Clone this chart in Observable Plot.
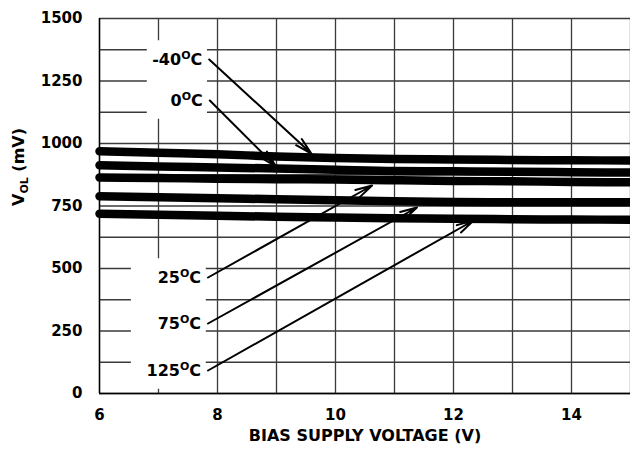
<!DOCTYPE html>
<html><head><meta charset="utf-8">
<script src="https://cdn.jsdelivr.net/npm/d3@7"></script>
<script src="https://cdn.jsdelivr.net/npm/@observablehq/plot@0.6"></script>
<style>body{margin:0;background:#fff}</style>
</head><body><div id="chart"></div>
<script>
// Data
const voltage = [6, 7, 8, 9, 10, 11, 12, 13, 14, 15];
const vol_m40 = [969, 963, 957, 948, 942, 938, 936, 934, 933, 932];
const vol_0   = [913, 908, 904, 900, 895, 890, 889, 887, 885, 884];
const vol_25  = [864, 862, 859, 857, 856, 853, 850, 849, 846, 845];
const vol_75  = [789, 785, 781, 777, 773, 769, 766, 765, 765, 765];
const vol_125 = [719, 715, 711, 707, 704, 701, 699, 697, 696, 695];
const temps = ["-40°C", "0°C", "25°C", "75°C", "125°C"];
const seriesValues = [vol_m40, vol_0, vol_25, vol_75, vol_125];

const xTicks = [6, 8, 10, 12, 14];
const yTicks = [0, 250, 500, 750, 1000, 1250, 1500];
const xGrid = d3.range(6, 16, 1);
const yGrid = d3.range(0, 1501, 125);
const xLabel = "BIAS SUPPLY VOLTAGE (V)";
const yLabel = "VOL (mV)";

// Annotation arrows: label/arrow start (x1,y1) -> tip (x2,y2), group for background box
const annLabels = ["-40°C", "0°C", "25°C", "75°C", "125°C"];
const annX1 = [7.86, 7.87, 7.84, 7.84, 7.84];
const annY1 = [1336, 1172, 464, 280, 92];
const annX2 = [9.59, 8.99, 10.62, 11.38, 12.34];
const annY2 = [960, 908, 832, 744, 692];
const annGroup = ["top", "top", "bottom", "bottom", "bottom"];

const rows = [];
temps.forEach((t, i) => voltage.forEach((v, j) => rows.push({temp: t, v, mv: seriesValues[i][j]})));
const ann = annLabels.map((l, i) => ({label: l, x1: annX1[i], y1: annY1[i], x2: annX2[i], y2: annY2[i], g: annGroup[i]}));
const boxes = d3.groups(ann, d => d.g).map(([g, a]) => {
  const xs = a.map(d => d.x1), ys = a.map(d => d.y1);
  const wide = g === "bottom" ? 1.3 : 1.05;
  return {x1: d3.min(xs) - wide, x2: d3.min(xs) - 0.03, y1: d3.min(ys) - 75, y2: d3.max(ys) + 75};
});

const chart = Plot.plot({
  width: 630, height: 452,
  marginLeft: 99, marginRight: 0, marginTop: 18, marginBottom: 59,
  style: {fontFamily: "'DejaVu Sans', sans-serif", fontWeight: "bold", fontSize: "15px", color: "#000", background: "#fff"},
  x: {domain: [6, 15], label: null},
  y: {domain: [0, 1500], label: null},
  marks: [
    Plot.gridX(xGrid, {stroke: "#3a3a3a", strokeOpacity: 1, strokeWidth: 1.3}),
    Plot.gridY(yGrid, {stroke: "#3a3a3a", strokeOpacity: 1, strokeWidth: 1.3}),
    Plot.rect(boxes, {x1: "x1", x2: "x2", y1: "y1", y2: "y2", fill: "#fff"}),
    Plot.ruleY([0], {stroke: "#000", strokeWidth: 1.6}),
    Plot.ruleX([6], {stroke: "#000", strokeWidth: 1.4}),
    Plot.line(rows, {x: "v", y: "mv", z: "temp", stroke: "#000", strokeWidth: 8.5, curve: "monotone-x"}),
    Plot.arrow(ann, {x1: "x1", y1: "y1", x2: "x2", y2: "y2", stroke: "#000", strokeWidth: 2, headLength: 13, headAngle: 28}),
    Plot.text(ann, {x: "x1", y: "y1", text: "label", textAnchor: "end", dx: -7, fontSize: 16, fontWeight: "bold", fill: "#000"}),
    Plot.axisX({ticks: xTicks, tickSize: 0, tickPadding: 16, fontSize: 15, label: null, tickFormat: d => String(d)}),
    Plot.axisY({ticks: yTicks, tickSize: 0, tickPadding: 17, fontSize: 15, label: null, tickFormat: d => String(d)}),
    Plot.text([xLabel], {frameAnchor: "bottom", dy: 47, fontSize: 16, fontWeight: "bold", fill: "#000"}),
    Plot.text([yLabel], {frameAnchor: "left", rotate: -90, dx: -81, fontSize: 16, fontWeight: "bold", fill: "#000"})
  ]
});

// superscript "O" for degrees and subscript "OL"
const NS = "http://www.w3.org/2000/svg";
chart.querySelectorAll("text").forEach(t => {
  const s = t.textContent;
  if (s.includes("°")) {
    const [a, b] = s.split("°");
    t.textContent = "";
    const t1 = document.createElementNS(NS, "tspan"); t1.textContent = a;
    const t2 = document.createElementNS(NS, "tspan"); t2.textContent = "O"; t2.setAttribute("font-size", "11"); t2.setAttribute("dy", "-6");
    const t3 = document.createElementNS(NS, "tspan"); t3.textContent = b; t3.setAttribute("dy", "6");
    t.append(t1, t2, t3);
  } else if (s === "VOL (mV)") {
    t.textContent = "";
    const t1 = document.createElementNS(NS, "tspan"); t1.textContent = "V";
    const t2 = document.createElementNS(NS, "tspan"); t2.textContent = "OL"; t2.setAttribute("font-size", "11"); t2.setAttribute("dy", "4");
    const t3 = document.createElementNS(NS, "tspan"); t3.textContent = " (mV)"; t3.setAttribute("dy", "-4");
    t.append(t1, t2, t3);
  }
});
document.getElementById("chart").append(chart);
</script>
</body></html>
